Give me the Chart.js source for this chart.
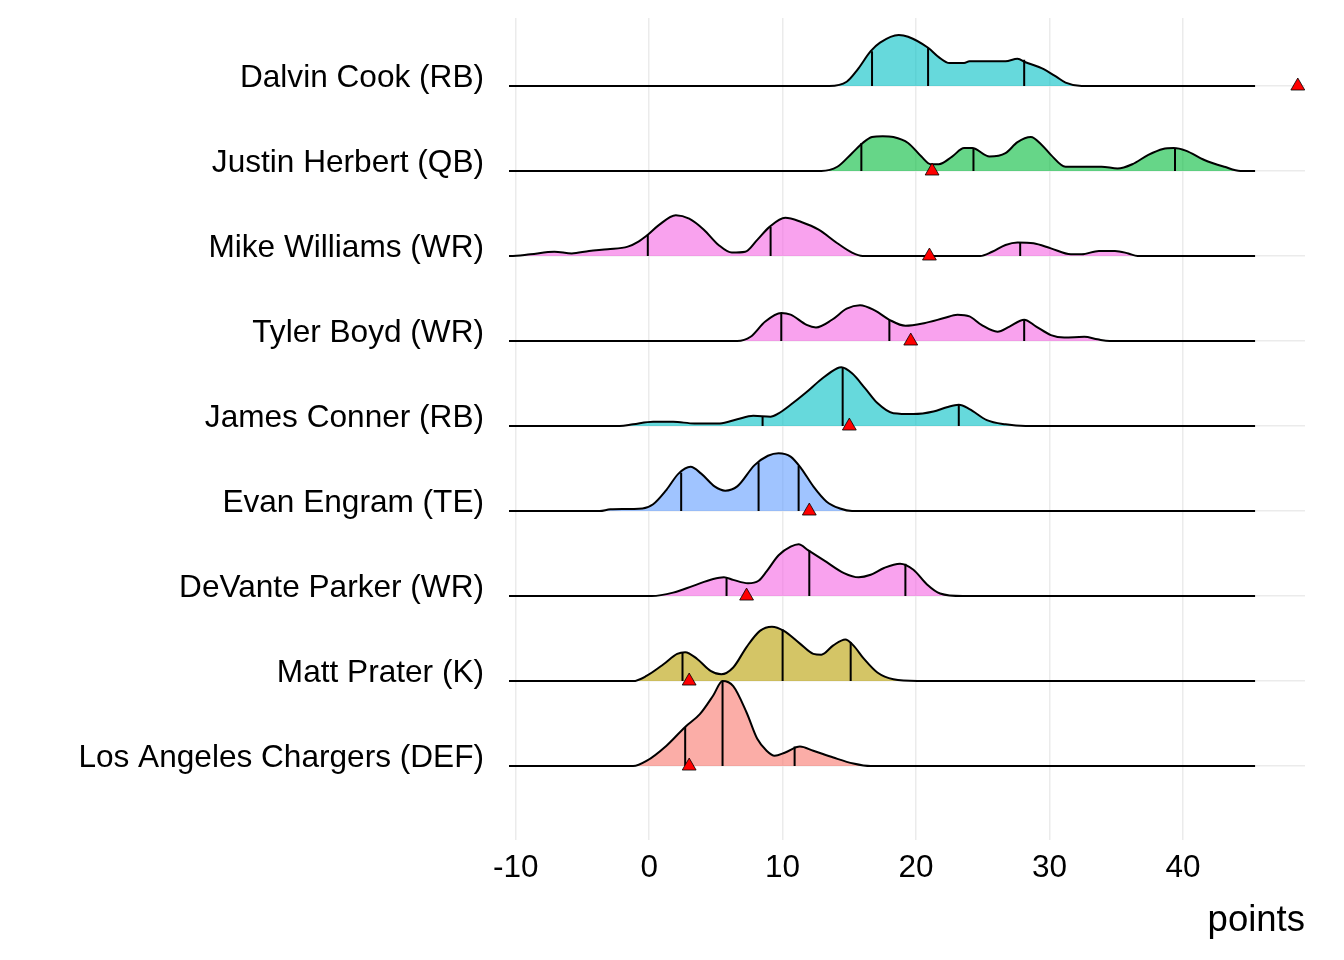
<!DOCTYPE html>
<html>
<head>
<meta charset="utf-8">
<script src="https://cdn.jsdelivr.net/npm/chart.js@4"></script>
<style>
  html, body { margin: 0; padding: 0; background: #fff; }
  #wrap { width: 1344px; height: 960px; }
</style>
</head>
<body>
<div id="wrap"><canvas id="ridges" width="1344" height="960"></canvas></div>
<script>
// --- Data ---

// players, top row first
const players = [
    'Dalvin Cook (RB)',
    'Justin Herbert (QB)',
    'Mike Williams (WR)',
    'Tyler Boyd (WR)',
    'James Conner (RB)',
    'Evan Engram (TE)',
    'DeVante Parker (WR)',
    'Matt Prater (K)',
    'Los Angeles Chargers (DEF)'
];
const positions = ['RB', 'QB', 'WR', 'WR', 'RB', 'TE', 'WR', 'K', 'DEF'];

// density outlines: points and ridge height (in row units)
const cookPts = [13.5, 14.8, 15.6, 16.6, 17.3, 18.7, 19.4, 20.9, 21.7, 22.5, 23.6, 24.0, 26.7, 27.6, 28.2, 29.4, 30.5, 31.2, 32.4];
const cookDens = [0, .05, .19, .41, .51, .60, .58, .45, .34, .27, .27, .29, .29, .32, .28, .21, .11, .04, 0];

const herbertPts = [12.9, 14.1, 15.2, 16.0, 16.7, 17.5, 18.3, 19.4, 20.4, 21.1, 21.7, 22.7, 23.6, 24.2, 25.5, 26.7, 27.6, 28.6, 29.4, 30.1, 31.2, 32.8, 33.9, 35.1, 36.2, 37.4, 38.5, 39.3, 40.2, 41.6, 43.1, 44.3];
const herbertDens = [0, .05, .21, .33, .40, .41, .40, .33, .17, .08, .08, .17, .27, .27, .17, .21, .34, .40, .31, .19, .05, .05, .05, .03, .08, .19, .26, .27, .24, .13, .05, 0];

const williamsPts = [-10.4, -8.9, -7.1, -5.8, -4.5, -3.1, -1.6, -0.8, -0.1, 0.7, 2.0, 3.0, 4.1, 5.2, 6.2, 7.2, 8.1, 9.0, 10.2, 11.4, 12.7, 14.1, 15.2, 16.0, 24.8, 25.7, 26.7, 27.6, 28.8, 30.1, 31.6, 32.4, 33.7, 34.9, 35.9, 36.6];
const williamsDens = [0, .02, .05, .03, .06, .08, .11, .17, .25, .36, .48, .44, .31, .13, .04, .05, .19, .34, .45, .40, .31, .15, .04, 0, 0, .05, .13, .16, .15, .09, .02, .02, .06, .06, .03, 0];

const boydPts = [6.6, 7.6, 8.7, 9.9, 10.6, 11.8, 12.5, 13.7, 14.8, 15.8, 16.9, 18.0, 19.2, 20.6, 22.1, 23.1, 24.0, 24.9, 26.1, 27.0, 28.1, 29.0, 30.1, 31.1, 32.6, 33.6, 34.5];
const boydDens = [0, .05, .23, .33, .31, .19, .16, .25, .38, .42, .36, .25, .18, .21, .27, .31, .29, .19, .11, .17, .25, .17, .07, .04, .05, .02, 0];

const connerPts = [-2.2, -1.2, 0.3, 1.8, 3.4, 5.3, 6.6, 7.8, 9.1, 9.7, 10.6, 11.8, 12.9, 14.1, 14.4, 15.2, 16.2, 17.1, 18.3, 19.8, 21.3, 22.3, 23.2, 24.0, 25.3, 26.7, 28.2];
const connerDens = [0, .02, .05, .05, .03, .03, .08, .12, .11, .15, .25, .40, .55, .68, .69, .62, .44, .27, .15, .14, .17, .22, .25, .20, .07, .02, 0];

const engramPts = [-3.7, -2.9, -0.5, 0.3, 1.3, 2.2, 3.1, 3.9, 4.9, 5.7, 6.6, 7.9, 8.9, 9.7, 10.6, 11.4, 12.3, 13.3, 14.3, 15.2];
const engramDens = [0, .02, .03, .08, .25, .44, .52, .44, .29, .24, .29, .54, .65, .68, .64, .50, .29, .11, .03, 0];

const parkerPts = [0.2, 1.8, 3.3, 4.8, 5.6, 6.3, 7.4, 8.2, 8.8, 9.7, 10.6, 11.2, 11.9, 13.1, 14.6, 15.7, 16.6, 17.6, 18.8, 19.8, 20.8, 21.8, 23.5];
const parkerDens = [0, .04, .12, .20, .22, .19, .15, .18, .29, .48, .58, .61, .54, .42, .27, .22, .25, .33, .38, .31, .14, .03, 0];

const praterPts = [-1.2, -0.2, 1.1, 2.1, 2.7, 3.6, 4.6, 5.4, 6.3, 7.3, 8.3, 9.2, 10.1, 11.3, 12.3, 12.9, 13.8, 14.7, 15.3, 16.1, 17.1, 18.3, 20.1];
const praterDens = [0, .06, .20, .32, .34, .26, .12, .08, .16, .40, .59, .64, .59, .44, .32, .31, .42, .49, .42, .26, .10, .02, 0];

const chargersPts = [-1.2, -0.2, 1.3, 2.7, 3.8, 4.8, 5.5, 6.3, 7.3, 8.1, 8.8, 9.4, 10.2, 11.3, 12.3, 13.8, 15.3, 16.6];
const chargersDens = [0, .06, .24, .46, .61, .83, 1.0, .94, .63, .32, .18, .12, .16, .23, .18, .10, .03, 0];

// quantile lines (25/50/75%) and their heights
const quantiles = [
    [16.7, 20.9, 28.1], [15.9, 24.3, 39.4], [-0.1, 9.1, 27.8],
    [9.9, 18.0, 28.1], [8.5, 14.5, 23.2], [2.4, 8.2, 11.2],
    [5.8, 12.0, 19.2], [2.5, 10.0, 15.1], [2.7, 5.5, 10.9]
];
const quantileDens = [
    [.41, .45, .31], [.33, .27, .27], [.25, .34, .16],
    [.33, .25, .25], [.11, .69, .25], [.45, .57, .53],
    [.22, .54, .38], [.34, .61, .46], [.46, 1.0, .23]
];

// actual points scored (red triangles)
const actualPoints = [48.6, 21.2, 21.0, 19.6, 15.0, 12.0, 7.3, 3.0, 3.0];

const xTicks = [-10, 0, 10, 20, 30, 40];
const rangeMin = -10.5;
const rangeMax = 45.4;

// --- Styles ---

const posColors = {
    DEF: 'rgba(248, 118, 109, 0.6)',
    K: 'rgba(183, 159, 0, 0.6)',
    QB: 'rgba(0, 186, 56, 0.6)',
    RB: 'rgba(0, 191, 196, 0.6)',
    TE: 'rgba(97, 156, 255, 0.6)',
    WR: 'rgba(245, 100, 227, 0.6)'
};
const FONT = "'Liberation Sans', Arial, sans-serif";

// --- Build datasets ---

const outlines = [
    [cookPts, cookDens], [herbertPts, herbertDens], [williamsPts, williamsDens],
    [boydPts, boydDens], [connerPts, connerDens], [engramPts, engramDens],
    [parkerPts, parkerDens], [praterPts, praterDens], [chargersPts, chargersDens]
];

const datasets = [];
players.forEach((name, i) => {
    const row = players.length - 1 - i; // bottom row = 0
    const [pts, dens] = outlines[i];

    const ridge = [{ x: rangeMin, y: row }];
    pts.forEach((p, k) => ridge.push({ x: p, y: row + dens[k] }));
    ridge.push({ x: rangeMax, y: row });

    datasets.push({
        type: 'line',
        data: ridge,
        borderColor: '#000',
        borderWidth: 2,
        backgroundColor: posColors[positions[i]],
        fill: { value: row },
        pointRadius: 0,
        cubicInterpolationMode: 'monotone',
        order: 10 + row * 2 + 1
    });

    // quantile segments, split with null gaps
    const qLines = [];
    quantiles[i].forEach((q, k) => {
        qLines.push({ x: q, y: row }, { x: q, y: row + quantileDens[i][k] }, { x: q, y: null });
    });
    datasets.push({
        type: 'line',
        data: qLines,
        borderColor: '#000',
        borderWidth: 2,
        pointRadius: 0,
        fill: false,
        spanGaps: false,
        order: 10 + row * 2
    });
});

datasets.push({
    type: 'scatter',
    data: actualPoints.map((v, i) => ({ x: v, y: players.length - 1 - i })),
    pointStyle: 'triangle',
    pointRadius: 8,
    backgroundColor: '#ff0000',
    borderColor: '#000',
    borderWidth: 0.8,
    clip: false,
    order: 0
});

// --- Chart ---

new Chart(document.getElementById('ridges'), {
    type: 'line',
    data: { datasets },
    options: {
        responsive: false,
        animation: false,
        layout: { padding: { top: 18, right: 39, bottom: 0, left: 0 } },
        scales: {
            x: {
                type: 'linear',
                min: rangeMin,
                max: 49.14,
                afterBuildTicks: (axis) => { axis.ticks = xTicks.map(v => ({ value: v })); },
                afterFit: (axis) => { axis.height = 120; },
                grid: { color: '#ebebeb', lineWidth: 1.5, drawTicks: false },
                border: { display: false },
                ticks: {
                    color: '#000',
                    padding: 9,
                    maxRotation: 0,
                    font: { family: FONT, size: 31.5 }
                },
                title: {
                    display: true,
                    text: 'points',
                    align: 'end',
                    color: '#000',
                    padding: { top: 0, bottom: 17 },
                    font: { family: FONT, size: 36.5 }
                }
            },
            y: {
                type: 'linear',
                min: -0.87,
                max: 8.8,
                afterBuildTicks: (axis) => { axis.ticks = players.map((p, i) => ({ value: i })); },
                afterFit: (axis) => {
                    axis.width = 509;
                    axis.paddingTop = 0;
                    axis.paddingBottom = 0;
                },
                grid: { color: '#ebebeb', lineWidth: 1.5, drawTicks: false },
                border: { display: false },
                ticks: {
                    color: '#000',
                    padding: 25,
                    labelOffset: -8,
                    font: { family: FONT, size: 31.6 },
                    callback: (v) => players[players.length - 1 - v]
                }
            }
        },
        plugins: {
            legend: { display: false },
            tooltip: { enabled: false }
        }
    }
});
</script>
</body>
</html>
